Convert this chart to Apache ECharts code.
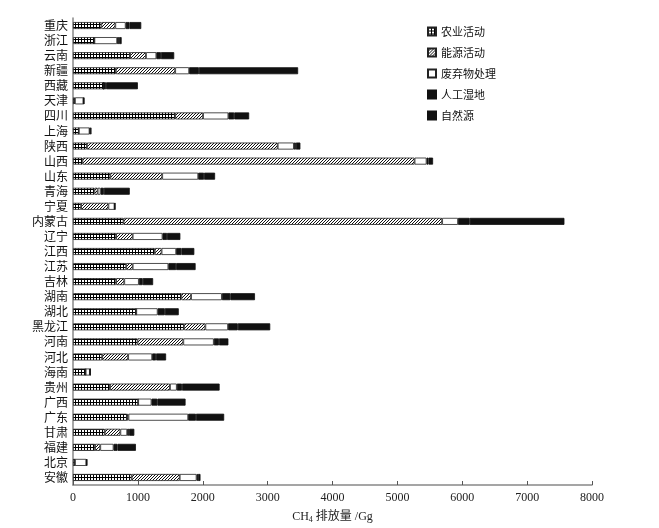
<!DOCTYPE html>
<html>
<head>
<meta charset="utf-8">
<script src="https://cdn.jsdelivr.net/npm/echarts@6/dist/echarts.min.js"></script>
<style>
  html, body { margin: 0; padding: 0; background: #fff; }
  #chart { width: 659px; height: 528px; }
</style>
</head>
<body>
<div id="chart"></div>
<script>
// provinces, listed from the bottom of the chart to the top
var provinces = ['安徽', '北京', '福建', '甘肃', '广东', '广西', '贵州', '海南', '河北', '河南',
  '黑龙江', '湖北', '湖南', '吉林', '江苏', '江西', '辽宁', '内蒙古', '宁夏', '青海',
  '山东', '山西', '陕西', '上海', '四川', '天津', '西藏', '新疆', '云南', '浙江', '重庆'];

// CH4 emissions, Gg
var agriculture = [905, 30, 340, 490, 835, 1005, 570, 195, 450, 995,
  1710, 975, 1670, 665, 820, 1260, 665, 780, 125, 330,
  575, 145, 215, 90, 1575, 20, 470, 660, 880, 330, 437];
var energy = [740, 0, 80, 240, 20, 0, 925, 0, 400, 705,
  330, 0, 150, 125, 100, 105, 255, 4910, 420, 50,
  800, 5120, 2940, 0, 430, 10, 0, 915, 245, 0, 215];
var waste = [260, 175, 205, 105, 920, 205, 105, 65, 370, 470,
  350, 330, 475, 225, 550, 225, 460, 245, 95, 45,
  555, 185, 250, 165, 390, 130, 0, 215, 160, 350, 160];
var wetland = [20, 5, 60, 30, 120, 90, 80, 5, 60, 80,
  150, 110, 130, 60, 120, 80, 70, 180, 5, 50,
  90, 30, 30, 10, 90, 5, 40, 150, 70, 30, 60];
var natural = [40, 10, 285, 80, 435, 435, 580, 5, 155, 145,
  500, 215, 380, 160, 300, 200, 205, 1460, 5, 400,
  170, 70, 70, 20, 230, 10, 490, 1530, 205, 40, 180];

var seriesNames = ['农业活动', '能源活动', '废弃物处理', '人工湿地', '自然源'];

// fill patterns
function gridPattern() {
  var c = document.createElement('canvas');
  c.width = 3; c.height = 3;
  var ctx = c.getContext('2d');
  ctx.fillStyle = '#fff';
  ctx.fillRect(0, 0, 3, 3);
  ctx.fillStyle = '#000';
  ctx.fillRect(0, 0, 3, 1);
  ctx.fillRect(0, 0, 1, 3);
  return c;
}
function hatchPattern() {
  var c = document.createElement('canvas');
  c.width = 3; c.height = 3;
  var ctx = c.getContext('2d');
  ctx.fillStyle = '#fff';
  ctx.fillRect(0, 0, 3, 3);
  ctx.fillStyle = '#111';
  for (var i = 0; i < 3; i++) {
    ctx.fillRect(i, 2 - i, 1, 1);
  }
  return c;
}

var fills = [
  { image: gridPattern(), repeat: 'repeat' },
  { image: hatchPattern(), repeat: 'repeat' },
  '#ffffff',
  '#111111',
  '#111111'
];
var borderColors = ['#222', '#222', '#222', '#111', '#111'];
var values = [agriculture, energy, waste, wetland, natural];

var series = [];
for (var i = 0; i < seriesNames.length; i++) {
  series.push({
    name: seriesNames[i],
    type: 'bar',
    stack: 'total',
    barWidth: 7,
    data: values[i],
    itemStyle: {
      color: fills[i],
      borderColor: borderColors[i],
      borderWidth: 0.8
    },
    emphasis: { disabled: true }
  });
}

var serif = 'Liberation Serif, Noto Sans CJK SC';
var myChart = echarts.init(document.getElementById('chart'));
myChart.setOption({
  animation: false,
  backgroundColor: '#fff',
  grid: {
    left: 73,
    right: 67,
    top: 18,
    bottom: 43,
    outerBoundsMode: 'none'
  },
  legend: {
    orient: 'vertical',
    left: 422,
    top: 21,
    icon: 'rect',
    itemWidth: 8,
    itemHeight: 8,
    itemGap: 10,
    textStyle: {
      fontFamily: 'Noto Sans CJK SC',
      fontSize: 11,
      color: '#111'
    },
    data: seriesNames
  },
  xAxis: {
    type: 'value',
    min: 0,
    max: 8000,
    interval: 1000,
    axisLine: { show: true, lineStyle: { color: '#888', width: 1.5 } },
    axisTick: { show: true, inside: true, length: 4, lineStyle: { color: '#555' } },
    splitLine: { show: false },
    axisLabel: {
      fontFamily: serif,
      fontSize: 12,
      color: '#222',
      margin: 7,
      formatter: function (v) { return String(v); }
    },
    name: '{a|CH}{b|4}{a| 排放量 /Gg}',
    nameLocation: 'middle',
    nameGap: 25,
    nameTextStyle: {
      rich: {
        a: { fontFamily: serif, fontSize: 12, color: '#222' },
        b: { fontFamily: serif, fontSize: 8, color: '#222', verticalAlign: 'bottom', padding: [6, 0, 0, 0] }
      }
    }
  },
  yAxis: {
    type: 'category',
    data: provinces,
    axisLine: { show: true, lineStyle: { color: '#888', width: 1.5 } },
    axisTick: { show: false },
    axisLabel: {
      fontFamily: 'Noto Sans CJK SC',
      fontSize: 12,
      color: '#111',
      margin: 5,
      interval: 0
    }
  },
  series: series
});
</script>
</body>
</html>
